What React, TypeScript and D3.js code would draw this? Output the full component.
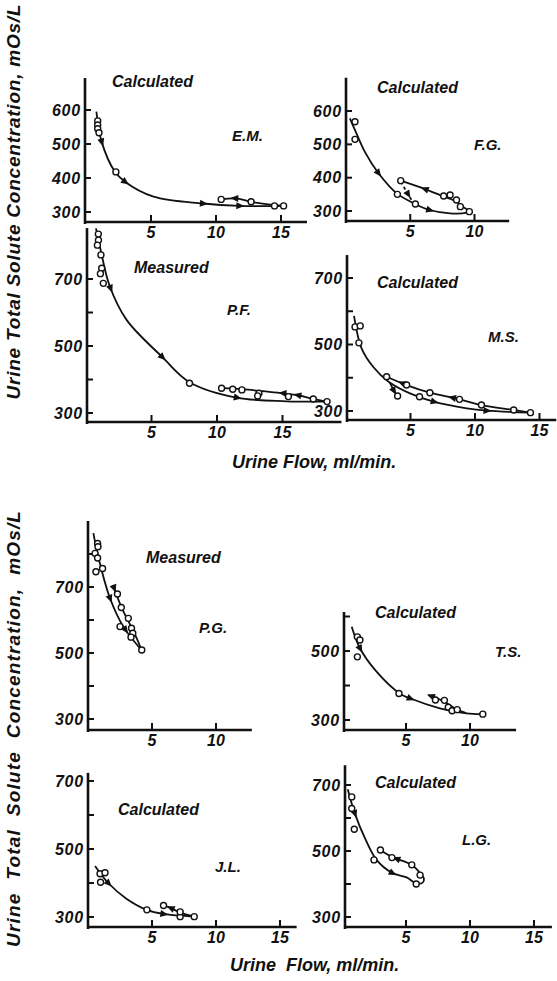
import React, { useEffect, useRef } from 'react';
import * as d3 from 'd3';

type Pt = [number, number];
type Arrow = [number, number, number]; // curve index, approx x, approx y

// ---------- text ----------
const subjectNames = ["E.M.", "F.G.", "P.F.", "M.S.", "P.G.", "T.S.", "J.L.", "L.G."];
const methodNames = ["Calculated", "Calculated", "Measured", "Calculated", "Measured", "Calculated", "Calculated", "Calculated"];
const yTitle = "Urine Total Solute Concentration, mOs/L";
const xTitleTop = "Urine Flow, ml/min.";
const xTitleBottom = "Urine  Flow, ml/min.";

// ---------- tick values ----------
const yTicks4 = [300, 400, 500, 600];
const yTicks5 = [300, 400, 500, 600, 700];
const yTicks6 = [300, 400, 500, 600, 700, 800];
const yLabAll = [300, 400, 500, 600];
const yLabOdd = [300, 500, 700];
const yLabTS = [300, 500];
const xTicks2 = [5, 10];
const xTicks3 = [5, 10, 15];

// ---------- E.M. ----------
const emPoints: Pt[] = [[0.9, 568], [0.9, 556], [0.9, 545], [1.0, 533], [2.3, 418], [10.4, 337], [12.7, 330], [14.5, 318], [15.2, 318]];
const emMain: Pt[] = [[0.8, 595], [1.2, 507], [2.2, 420], [3.0, 389], [5.2, 345], [9.0, 325], [11.8, 318], [15.2, 318]];
const emUpper: Pt[] = [[15.2, 318], [14.5, 320], [12.7, 330], [11.5, 340], [10.4, 337]];
const emArrows: Arrow[] = [[0, 1.2, 507], [0, 3.0, 389], [0, 9.0, 325], [0, 11.8, 318], [1, 11.5, 340]];

// ---------- F.G. ----------
const fgPoints: Pt[] = [[0.7, 568], [0.7, 515], [4.0, 350], [5.4, 321], [4.26, 391], [7.6, 345], [8.1, 348], [8.6, 333], [8.9, 313], [9.6, 298]];
const fgMain: Pt[] = [[0.3, 578], [0.7, 543], [1.5, 475], [2.5, 415], [3.95, 353], [5.4, 321], [6.5, 303], [8.1, 293], [9.4, 295], [9.7, 300]];
const fgUpper: Pt[] = [[9.7, 300], [9.2, 310], [8.6, 328], [7.5, 345], [6.2, 365], [4.26, 391]];
const fgDashed: Pt[] = [[4.26, 388], [5.25, 323]];
const fgArrows: Arrow[] = [[0, 2.5, 415], [0, 6.5, 303], [1, 6.2, 365], [2, 4.8, 352]];

// ---------- P.F. ----------
const pfPoints: Pt[] = [[0.94, 834], [0.95, 816], [0.87, 801], [1.14, 772], [1.2, 732], [1.1, 716], [1.32, 687], [7.9, 389], [10.35, 374], [11.2, 371], [11.9, 369], [13.2, 359], [13.1, 351], [15.45, 349], [17.35, 342], [18.4, 334]];
const pfMain: Pt[] = [[0.76, 851], [1.1, 790], [1.8, 680], [3.1, 578], [5.8, 468], [7.9, 392], [11.5, 346], [15.3, 335], [18.4, 334]];
const pfUpper: Pt[] = [[18.4, 334], [17.35, 342], [16.2, 353], [15.06, 359], [13.5, 365], [11.9, 371], [10.36, 374]];
const pfArrows: Arrow[] = [[0, 1.83, 672], [0, 5.8, 468], [0, 11.5, 344], [1, 15.06, 359], [1, 16.2, 353]];

// ---------- M.S. ----------
const msPoints: Pt[] = [[0.7, 553], [1.1, 556], [1.0, 505], [3.15, 403], [4.7, 378], [4.0, 345], [5.7, 343], [6.5, 355], [8.8, 335], [10.5, 318], [13.0, 303], [14.3, 295]];
const msMain: Pt[] = [[0.62, 586], [1.2, 489], [2.1, 433], [3.3, 388], [4.96, 353], [6.8, 328], [9.36, 308], [10.9, 301], [14.3, 295]];
const msUpper: Pt[] = [[14.3, 295], [13.0, 303], [10.5, 318], [8.8, 335], [6.5, 355], [4.7, 378], [3.15, 403]];
const msSpur: Pt[] = [[3.4, 385], [3.7, 362], [4.0, 345]];
const msArrows: Arrow[] = [[0, 6.8, 328], [0, 10.9, 301], [1, 4.4, 383], [1, 8.3, 340], [2, 3.7, 362]];

// ---------- P.G. ----------
const pgPoints: Pt[] = [[0.75, 832], [0.78, 822], [0.55, 802], [0.75, 788], [0.62, 746], [1.14, 756], [2.3, 679], [2.6, 638], [3.15, 605], [2.5, 580], [3.4, 575], [3.5, 560], [3.36, 548], [4.2, 509]];
const pgLeft: Pt[] = [[0.42, 863], [0.8, 792], [1.72, 666], [2.76, 580], [4.18, 509]];
const pgRight: Pt[] = [[1.95, 706], [2.6, 640], [3.3, 585], [3.8, 545], [4.18, 509]];
const pgArrows: Arrow[] = [[0, 1.72, 666], [0, 2.9, 572], [1, 2.05, 698]];

// ---------- T.S. ----------
const tsPoints: Pt[] = [[1.2, 541], [1.4, 532], [1.2, 483], [4.45, 377], [7.3, 358], [8.0, 357], [8.3, 337], [8.6, 327], [9.0, 330], [11.0, 317]];
const tsMain: Pt[] = [[0.76, 570], [1.4, 508], [2.7, 440], [4.5, 377], [5.3, 363], [7.65, 334], [9.7, 319], [11.0, 317]];
const tsUpper: Pt[] = [[9.7, 320], [8.96, 331], [7.9, 355], [6.75, 372]];
const tsArrows: Arrow[] = [[0, 1.4, 508], [0, 5.3, 363], [1, 7.0, 369]];

// ---------- J.L. ----------
const jlPoints: Pt[] = [[0.94, 427], [1.33, 430], [0.98, 402], [4.6, 321], [5.9, 334], [7.2, 301], [7.2, 315], [8.3, 301]];
const jlMain: Pt[] = [[0.55, 450], [1.58, 400], [3.0, 354], [4.6, 321], [5.9, 309], [8.3, 301]];
const jlUpper: Pt[] = [[8.3, 301], [7.2, 313], [6.5, 326], [5.9, 334]];
const jlArrows: Arrow[] = [[0, 1.58, 400], [0, 5.9, 309], [1, 6.5, 326]];

// ---------- L.G. ----------
const lgPoints: Pt[] = [[0.76, 664], [0.76, 629], [0.96, 566], [2.5, 473], [3.0, 503], [3.9, 480], [5.45, 458], [6.1, 427], [5.8, 400]];
const lgLoop: Pt[] = [[0.45, 687], [1.0, 614], [1.8, 538], [2.7, 473], [3.9, 434], [5.05, 420], [5.8, 402], [6.3, 404], [6.4, 417], [6.2, 428], [5.45, 458], [3.9, 482], [2.97, 503]];
const lgArrows: Arrow[] = [[0, 1.0, 614], [0, 3.9, 434], [0, 4.3, 475]];

interface PanelData { points: Pt[]; curves: Pt[][]; dashed: boolean[]; arrows: Arrow[]; yTicks: number[]; yLabels: number[]; xTicks: number[]; }
const panelData: PanelData[] = [
  { points: emPoints, curves: [emMain, emUpper], dashed: [false, false], arrows: emArrows, yTicks: yTicks4, yLabels: yLabAll, xTicks: xTicks3 },
  { points: fgPoints, curves: [fgMain, fgUpper, fgDashed], dashed: [false, false, true], arrows: fgArrows, yTicks: yTicks4, yLabels: yLabAll, xTicks: xTicks2 },
  { points: pfPoints, curves: [pfMain, pfUpper], dashed: [false, false], arrows: pfArrows, yTicks: yTicks5, yLabels: yLabOdd, xTicks: xTicks3 },
  { points: msPoints, curves: [msMain, msUpper, msSpur], dashed: [false, false, false], arrows: msArrows, yTicks: yTicks5, yLabels: yLabOdd, xTicks: xTicks3 },
  { points: pgPoints, curves: [pgLeft, pgRight], dashed: [false, false], arrows: pgArrows, yTicks: yTicks6, yLabels: yLabOdd, xTicks: xTicks2 },
  { points: tsPoints, curves: [tsMain, tsUpper], dashed: [false, false], arrows: tsArrows, yTicks: yTicks4, yLabels: yLabTS, xTicks: xTicks2 },
  { points: jlPoints, curves: [jlMain, jlUpper], dashed: [false, false], arrows: jlArrows, yTicks: yTicks5, yLabels: yLabOdd, xTicks: xTicks3 },
  { points: lgPoints, curves: [lgLoop], dashed: [false], arrows: lgArrows, yTicks: yTicks5, yLabels: yLabOdd, xTicks: xTicks3 },
];

// ---------- layout (pixel geometry of each panel) ----------
interface Layout { x0: number; x10: number; y300: number; y700: number; axisX: number; axisY: number; xEnd: number; yTop: number; method: [number, number]; name: [number, number]; }
const layouts: Layout[] = [
  { x0: 86, x10: 216, y300: 212, y700: 76, axisX: 85, axisY: 222, xEnd: 17, yTop: 694, method: [112, 87], name: [232, 141] },
  { x0: 346, x10: 474.5, y300: 211, y700: 77.7, axisX: 346, axisY: 221, xEnd: 12.7, yTop: 700, method: [377, 93], name: [474, 150] },
  { x0: 86, x10: 217, y300: 413, y700: 279, axisX: 87, axisY: 422, xEnd: 19.5, yTop: 852, method: [134, 273], name: [227, 315] },
  { x0: 346, x10: 475, y300: 411, y700: 278, axisX: 347, axisY: 420, xEnd: 16.3, yTop: 769, method: [377, 288], name: [488, 342] },
  { x0: 88, x10: 216, y300: 719, y700: 587, axisX: 88, axisY: 730, xEnd: 12.8, yTop: 900, method: [146, 563], name: [199, 633] },
  { x0: 342, x10: 470, y300: 720, y700: 582, axisX: 344, axisY: 730, xEnd: 13.6, yTop: 613, method: [375, 618], name: [495, 657] },
  { x0: 88, x10: 216, y300: 917, y700: 781, axisX: 88, axisY: 927, xEnd: 16.3, yTop: 724, method: [118, 815], name: [215, 872] },
  { x0: 342, x10: 470, y300: 917, y700: 785, axisX: 345, axisY: 927, xEnd: 16.4, yTop: 760, method: [375, 788], name: [462, 845] },
];

const FONT = '"Liberation Sans", Arial, sans-serif';

export default function App() {
  const ref = useRef<SVGSVGElement>(null);
  useEffect(() => {
    const svg = d3.select(ref.current!);
    svg.selectAll('*').remove();
    svg.append('rect').attr('width', 557).attr('height', 981).attr('fill', '#fff');
    const g = svg.append('g').attr('font-family', FONT).attr('font-weight', 'bold').attr('font-style', 'italic');

    panelData.forEach((pd, i) => {
      const L = layouts[i];
      const sx = d3.scaleLinear().domain([0, 10]).range([L.x0, L.x10]);
      const sy = d3.scaleLinear().domain([300, 700]).range([L.y300, L.y700]);
      const pg = g.append('g');

      // axes
      pg.append('line').attr('x1', L.axisX).attr('x2', L.axisX).attr('y1', sy(L.yTop)).attr('y2', L.axisY + 2)
        .attr('stroke', '#111').attr('stroke-width', 2.6);
      pg.append('line').attr('x1', L.axisX - 1).attr('x2', sx(L.xEnd)).attr('y1', L.axisY).attr('y2', L.axisY)
        .attr('stroke', '#111').attr('stroke-width', 2.6);
      pd.yTicks.forEach(t => {
        pg.append('line').attr('x1', L.axisX).attr('x2', L.axisX + 6).attr('y1', sy(t)).attr('y2', sy(t))
          .attr('stroke', '#111').attr('stroke-width', 2);
      });
      pd.yLabels.forEach(t => {
        pg.append('text').attr('x', L.axisX - 4).attr('y', sy(t) + 5.5).attr('text-anchor', 'end')
          .attr('font-size', 16).attr('letter-spacing', 0.8).attr('fill', '#111').text(String(t));
      });
      pd.xTicks.forEach(t => {
        pg.append('line').attr('x1', sx(t)).attr('x2', sx(t)).attr('y1', L.axisY).attr('y2', L.axisY - 7)
          .attr('stroke', '#111').attr('stroke-width', 2);
        pg.append('text').attr('x', sx(t)).attr('y', L.axisY + 16).attr('text-anchor', 'middle')
          .attr('font-size', 16).attr('fill', '#111').text(String(t));
      });

      // labels
      pg.append('text').attr('x', L.method[0]).attr('y', L.method[1]).attr('font-size', 16).attr('fill', '#111').text(methodNames[i]);
      pg.append('text').attr('x', L.name[0]).attr('y', L.name[1]).attr('font-size', 15).attr('fill', '#111').text(subjectNames[i]);

      // curves
      const line = d3.line<Pt>().x(d => sx(d[0])).y(d => sy(d[1])).curve(d3.curveCatmullRom.alpha(0.5));
      const paths: SVGPathElement[] = [];
      pd.curves.forEach((c, ci) => {
        const p = pg.append('path').attr('d', line(c)!).attr('fill', 'none').attr('stroke', '#111')
          .attr('stroke-width', 1.8).attr('stroke-dasharray', pd.dashed[ci] ? '3,3' : null);
        paths.push(p.node()!);
      });

      // arrows snapped to their curve
      pd.arrows.forEach(([ci, ax, ay]) => {
        const node = paths[ci];
        const len = node.getTotalLength();
        const tx = sx(ax), ty = sy(ay);
        let best = 0, bd = Infinity;
        for (let l = 0; l <= len; l += 0.5) {
          const q = node.getPointAtLength(l);
          const dd = (q.x - tx) ** 2 + (q.y - ty) ** 2;
          if (dd < bd) { bd = dd; best = l; }
        }
        const a = node.getPointAtLength(Math.max(0, best - 1.5));
        const b = node.getPointAtLength(Math.min(len, best + 1.5));
        const c = node.getPointAtLength(best);
        const ang = Math.atan2(b.y - a.y, b.x - a.x) * 180 / Math.PI;
        pg.append('path').attr('d', 'M5,0 L-3,-3.5 L-3,3.5 Z').attr('fill', '#111')
          .attr('transform', `translate(${c.x},${c.y}) rotate(${ang})`);
      });

      // open circles
      pg.selectAll('circle.pt').data(pd.points).enter().append('circle')
        .attr('cx', d => sx(d[0])).attr('cy', d => sy(d[1])).attr('r', 3)
        .attr('fill', '#fff').attr('stroke', '#111').attr('stroke-width', 1.4);
    });

    // axis titles
    g.append('text').attr('transform', 'translate(20,202) rotate(-90)').attr('text-anchor', 'middle')
      .attr('font-size', 19).attr('fill', '#111').attr('textLength', 395).attr('lengthAdjust', 'spacing').text(yTitle);
    g.append('text').attr('transform', 'translate(20,729) rotate(-90)').attr('text-anchor', 'middle')
      .attr('font-size', 19).attr('fill', '#111').attr('textLength', 436).attr('lengthAdjust', 'spacing').attr('xml:space', 'preserve')
      .style('white-space', 'pre').text(yTitle.replace(/ /g, '  '));
    g.append('text').attr('x', 232).attr('y', 468).attr('font-size', 18).attr('fill', '#111').text(xTitleTop);
    g.append('text').attr('x', 230).attr('y', 971).attr('font-size', 18).attr('fill', '#111')
      .style('white-space', 'pre').text(xTitleBottom);
  }, []);

  return (
    <svg ref={ref} width={557} height={981} style={{ position: 'absolute', left: 0, top: 0 }} />
  );
}
